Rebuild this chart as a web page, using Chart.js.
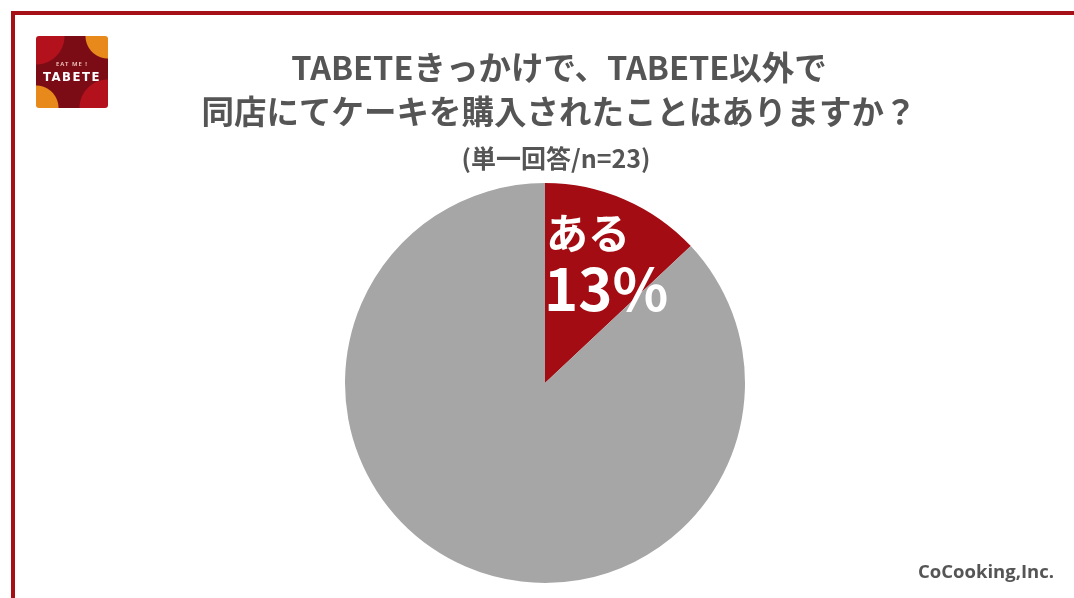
<!DOCTYPE html>
<html lang="ja">
<head>
<meta charset="utf-8">
<script src="https://cdn.jsdelivr.net/npm/chart.js@4"></script>
<style>
  html, body { margin: 0; padding: 0; background: #fff; }
  body { width: 1074px; height: 598px; position: relative; overflow: hidden; font-family: "Noto Sans CJK JP", "Noto Sans", sans-serif; }
  .frame { position: absolute; left: 11px; top: 11px; right: -10px; bottom: -10px; border-top: 4px solid #a50f16; border-left: 4px solid #a50f16; }
  .logo {
    position: absolute; left: 36px; top: 36px; width: 72px; height: 72px; border-radius: 3px; overflow: hidden;
    background:
      radial-gradient(circle at 100% 0%, #e8891c 0 22px, transparent 23px),
      radial-gradient(circle at 0% 100%, #e8891c 0 22px, transparent 23px),
      radial-gradient(circle at 0% 0%, #b3121c 0 28px, transparent 29px),
      radial-gradient(circle at 100% 100%, #b3121c 0 28px, transparent 29px),
      #7b0c16;
    color: #fff; text-align: center;
  }
  .logo .s { position: absolute; left: 0; right: 0; top: 24px; font: 600 6px "Noto Sans", sans-serif; letter-spacing: 1px; color: #f3c9c0; }
  .logo .b { position: absolute; left: 0; right: 0; top: 33px; font: 700 13px "DejaVu Sans Condensed", "Noto Sans", sans-serif; letter-spacing: 1.5px; }
  .credit { position: absolute; right: 20px; top: 558px; font: 700 18.5px "Open Sans", "Noto Sans", sans-serif; color: #555; }
  #wrap { position: absolute; left: 0; top: 0; width: 1074px; height: 598px; }
</style>
</head>
<body>
<div class="frame"></div>
<div id="wrap"><canvas id="pieChart"></canvas></div>
<div class="logo"><div class="s">EAT ME !</div><div class="b">TABETE</div></div>
<div class="credit">CoCooking,Inc.</div>
<script>
const categories = ['ある', 'ない'];
const shares = [13, 87];
const sliceColors = ['#a30c12', '#a6a6a6'];
const titleLines = ['TABETEきっかけで、TABETE以外で', '同店にてケーキを購入されたことはありますか？'];
const subtitleText = '(単一回答/n=23)';

// title block sits a bit right of the pie in the original, so draw it ourselves
const headText = {
    id: 'headText',
    afterDraw(chart) {
        const ctx = chart.ctx;
        const cx = chart.width / 2 + 22;
        ctx.save();
        ctx.fillStyle = '#555';
        ctx.textAlign = 'center';
        ctx.textBaseline = 'middle';
        ctx.font = '700 32.5px "Noto Sans CJK JP"';
        ctx.fillText(titleLines[0], cx, 68);
        ctx.fillText(titleLines[1], cx, 112);
        ctx.font = '700 25px "Noto Sans CJK JP"';
        ctx.fillText(subtitleText, cx - 3, 158);
        ctx.restore();
    }
};

// writes the first slice's name and share inside it
const sliceLabel = {
    id: 'sliceLabel',
    afterDatasetsDraw(chart) {
        const arc = chart.getDatasetMeta(0).data[0];
        const r = arc.outerRadius;
        const ctx = chart.ctx;
        ctx.save();
        ctx.fillStyle = '#fff';
        ctx.textAlign = 'left';
        ctx.textBaseline = 'alphabetic';
        ctx.font = '700 42px "Noto Sans CJK JP"';
        ctx.fillText(categories[0], arc.x + 1, arc.y - r * 0.67);
        ctx.font = '700 58px "Noto Sans CJK JP"';
        ctx.fillText(shares[0] + '%', arc.x - 1, arc.y - r * 0.36);
        ctx.restore();
    }
};

document.addEventListener('DOMContentLoaded', function() {
    const ctx = document.getElementById('pieChart').getContext('2d');
    new Chart(ctx, {
        type: 'pie',
        data: {
            labels: categories,
            datasets: [{
                data: shares,
                backgroundColor: sliceColors,
                borderWidth: 0
            }]
        },
        options: {
            responsive: true,
            maintainAspectRatio: false,
            animation: false,
            layout: { padding: { top: 183, bottom: 15, left: 16, right: 0 } },
            plugins: {
                legend: { display: false },
                tooltip: { enabled: false },
                title: { display: false }
            }
        },
        plugins: [sliceLabel, headText]
    });
});
</script>
</body>
</html>
